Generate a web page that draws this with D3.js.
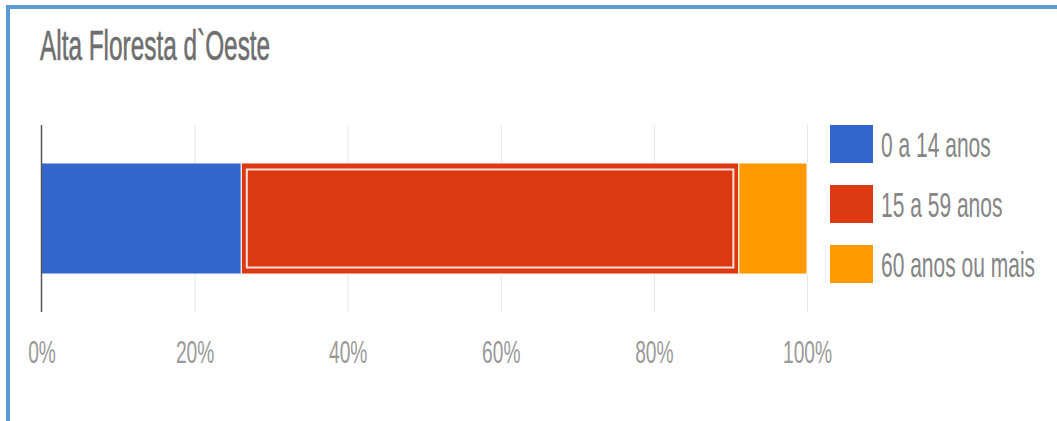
<!DOCTYPE html>
<html>
<head>
<meta charset="utf-8">
<script src="https://cdn.jsdelivr.net/npm/d3@7"></script>
<style>
  html, body { margin: 0; padding: 0; background: #fff; }
  svg { display: block; font-family: "Liberation Sans", Arial, sans-serif; }
</style>
</head>
<body>
<svg id="chart" width="1057" height="421"></svg>
<script>
// Population share by age group
const title = "Alta Floresta d`Oeste";
const categories = ["0 a 14 anos", "15 a 59 anos", "60 anos ou mais"];
const values = [26.1, 65.0, 8.9];
const colors = ["#3366cc", "#dc3912", "#ff9900"];
const tickValues = [0, 20, 40, 60, 80, 100];
const tickLabels = ["0%", "20%", "40%", "60%", "80%", "100%"];
const highlighted = 1; // segment drawn with the inner focus outline

const svg = d3.select("#chart");
const W = 1057, H = 421;
const squeeze = "scale(0.6,1)"; // narrow lettering

// Frame (top and left edges)
svg.append("rect").attr("x", 6).attr("y", 5).attr("width", W - 6).attr("height", 4).attr("fill", "#5b9bd5");
svg.append("rect").attr("x", 6).attr("y", 5).attr("width", 4).attr("height", H - 5).attr("fill", "#5b9bd5");

// Title
svg.append("g").attr("transform", "translate(40,60)")
  .append("text").attr("transform", "scale(0.58,1)")
  .attr("font-size", 42).attr("fill", "#6e6e6e")
  .attr("stroke", "#6e6e6e").attr("stroke-width", 0.6)
  .text(title);

// Plot area
const plot = { left: 41.5, right: 807, top: 125, bottom: 312 };
const x = d3.scaleLinear().domain([0, 100]).range([plot.left, plot.right]);
const y = d3.scaleBand().domain(["row"]).range([plot.top, plot.bottom]).paddingInner(0).paddingOuter(0.342);

// Gridlines
const grid = svg.append("g").attr("transform", `translate(0,${plot.bottom})`)
  .call(d3.axisBottom(x).tickValues(tickValues.slice(1)).tickSize(-(plot.bottom - plot.top)).tickFormat(""));
grid.select(".domain").remove();
grid.selectAll(".tick line").attr("stroke", "#e6e6e6").attr("stroke-width", 1);

// Stacked segments
const stacked = [];
let acc = 0;
values.forEach((v, i) => { stacked.push({ cat: categories[i], x0: acc, x1: acc + v, color: colors[i], i }); acc += v; });

const barY = y("row"), barH = y.bandwidth();
svg.append("g").selectAll("rect").data(stacked).join("rect")
  .attr("x", d => x(d.x0))
  .attr("y", barY)
  .attr("width", d => x(d.x1) - x(d.x0))
  .attr("height", barH)
  .attr("fill", d => d.color)
  .attr("stroke", "#ffffff")
  .attr("stroke-width", 1);

// Focus outline inside the highlighted segment
const hs = stacked[highlighted];
svg.append("rect")
  .attr("x", x(hs.x0) + 5.5)
  .attr("y", barY + 6.5)
  .attr("width", x(hs.x1) - x(hs.x0) - 11)
  .attr("height", barH - 13)
  .attr("fill", "none")
  .attr("stroke", "#ffffff")
  .attr("stroke-opacity", 0.85)
  .attr("stroke-width", 2);

// Baseline at zero
svg.append("line")
  .attr("x1", x(0)).attr("x2", x(0))
  .attr("y1", plot.top).attr("y2", plot.bottom)
  .attr("stroke", "#555").attr("stroke-width", 1.5);

// X axis labels
const axis = svg.append("g").attr("transform", `translate(0,${plot.bottom})`)
  .call(d3.axisBottom(x).tickValues(tickValues).tickSize(0).tickPadding(0)
    .tickFormat((d, i) => tickLabels[i]));
axis.select(".domain").remove();
axis.selectAll(".tick text")
  .attr("y", 51).attr("dy", 0)
  .attr("transform", squeeze)
  .attr("font-size", 32)
  .attr("font-family", "Liberation Sans, Arial, sans-serif")
  .attr("fill", "#999999");

// Legend
const legend = svg.append("g").attr("transform", "translate(830,157)");
const item = legend.selectAll("g").data(categories).join("g")
  .attr("transform", (d, i) => `translate(0,${i * 60})`);
item.append("rect")
  .attr("x", 0).attr("y", -32).attr("width", 43).attr("height", 38)
  .attr("fill", (d, i) => colors[i]);
item.append("g").attr("transform", "translate(51,0)")
  .append("text").attr("transform", squeeze)
  .attr("font-size", 35).attr("fill", "#858585").text(d => d);
</script>
</body>
</html>
